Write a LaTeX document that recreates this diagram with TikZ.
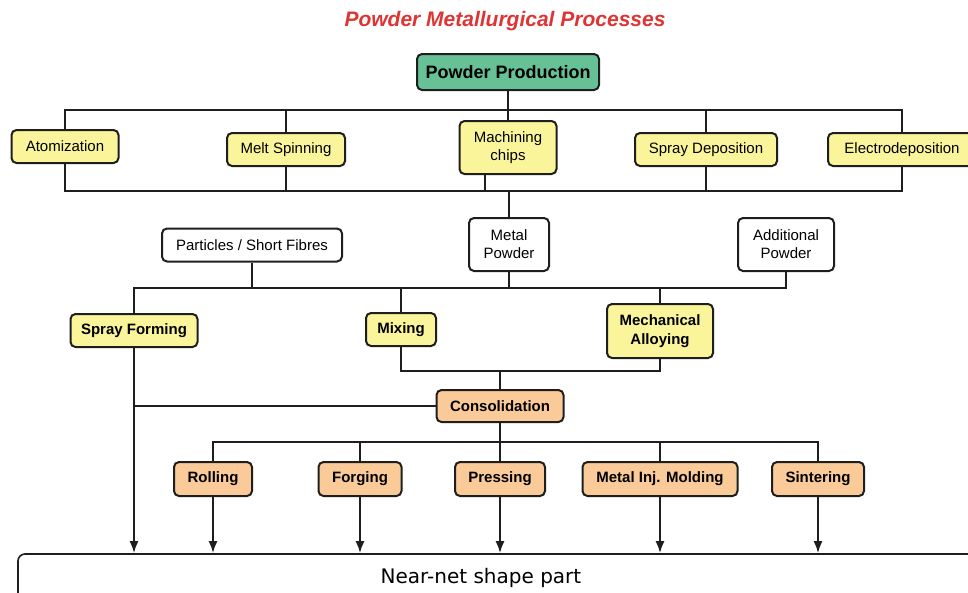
\documentclass[tikz,border=0pt]{standalone}
\usepackage{fontspec}
\setmainfont{Liberation Sans}
\newfontfamily\partfont{DejaVu Sans}
\usetikzlibrary{arrows.meta}

\definecolor{prodgreen}{RGB}{102,194,150}
\definecolor{srcyellow}{RGB}{250,245,155}
\definecolor{consorange}{RGB}{250,202,152}
\definecolor{linegray}{RGB}{30,30,30}
\definecolor{titlered}{RGB}{222,52,52}

\begin{document}
\begin{tikzpicture}[x=1pt, y=-1pt,
  box/.style={draw=linegray, line width=2pt, rounded corners=5pt, align=center,
    inner sep=0pt, font=\fontsize{15}{18}\selectfont},
  src/.style={box, fill=srcyellow},
  proc/.style={box, fill=srcyellow, font=\fontsize{15}{19}\selectfont\bfseries},
  shaping/.style={box, fill=consorange, font=\fontsize{15}{18}\selectfont\bfseries},
  feed/.style={box, fill=white},
  wire/.style={draw=linegray, line width=2pt},
  flow/.style={wire, -{Latex[length=12pt,width=9pt]}}]

  \clip (0,0) rectangle (968,592);

  % title
  \node[text=titlered, font=\fontsize{21}{24}\selectfont\bfseries\itshape] (title) at (505,21) {Powder Metallurgical Processes};

  % powder production routes
  \node[box, fill=prodgreen, font=\fontsize{18}{21}\selectfont\bfseries, minimum width=182pt, minimum height=36pt] (prod) at (508,72) {Powder Production};
  \node[src, minimum width=107pt, minimum height=33pt] (atom) at (65,146.5) {Atomization};
  \node[src, minimum width=118pt, minimum height=33pt] (melt) at (286,149.5) {Melt Spinning};
  \node[src, minimum width=97pt, minimum height=53pt] (chips) at (508,147.5) {Machining\\chips};
  \node[src, minimum width=142pt, minimum height=33pt] (sdep) at (706,149.5) {Spray Deposition};
  \node[src, minimum width=148pt, minimum height=33pt] (elec) at (902,149.5) {Electrodeposition};

  \coordinate (bus1) at (0,110);
  \coordinate (bus2) at (0,191);
  \draw[wire] (atom.north) |- (elec |- bus1) -- (elec.north);
  \draw[wire] (melt.north) -- (melt |- bus1);
  \draw[wire] (sdep.north) -- (sdep |- bus1);
  \draw[wire] (prod.south) -- (chips.north);
  \draw[wire] (atom.south) |- (elec |- bus2) -- (elec.south);
  \draw[wire] (melt.south) -- (melt |- bus2);
  \draw[wire] ([xshift=-23pt]chips.south) -- ([xshift=-23pt]chips.south |- bus2);
  \draw[wire] (sdep.south) -- (sdep |- bus2);

  % feed materials
  \node[feed, minimum width=180pt, minimum height=33pt] (fibres) at (252,245) {Particles / Short Fibres};
  \node[feed, minimum width=80pt, minimum height=53pt] (metal) at (509,244.5) {Metal\\Powder};
  \node[feed, minimum width=96pt, minimum height=53pt] (addl) at (786,244.5) {Additional\\Powder};
  \draw[wire] (metal.north) -- (metal |- bus2);

  % processing
  \node[proc, minimum width=127pt, minimum height=33pt] (sform) at (134,330.5) {Spray Forming};
  \node[proc, minimum width=70pt, minimum height=33pt] (mix) at (401,329.5) {Mixing};
  \node[proc, minimum width=106pt, minimum height=54pt] (mech) at (660,331) {Mechanical\\Alloying};
  \node[shaping, minimum width=127pt, minimum height=32pt] (cons) at (500,406) {Consolidation};

  \coordinate (bus3) at (0,288);
  \coordinate (bus4) at (0,371);
  \draw[wire] (sform.north) |- (addl |- bus3) -- (addl.south);
  \draw[wire] (fibres.south) -- (fibres |- bus3);
  \draw[wire] (metal.south) -- (metal |- bus3);
  \draw[wire] (mix.north) -- (mix |- bus3);
  \draw[wire] (mech.north) -- (mech |- bus3);
  \draw[wire] (mix.south) |- (mech |- bus4) -- (mech.south);
  \draw[wire] (cons.north) -- (cons |- bus4);
  \draw[wire] (cons.west) -- (cons.west -| sform);

  % shaping
  \node[shaping, minimum width=78pt, minimum height=34pt] (roll) at (213,479) {Rolling};
  \node[shaping, minimum width=83pt, minimum height=34pt] (forg) at (360,479) {Forging};
  \node[shaping, minimum width=90pt, minimum height=34pt] (press) at (500,479) {Pressing};
  \node[shaping, minimum width=155pt, minimum height=34pt] (mim) at (660,479) {Metal Inj. Molding};
  \node[shaping, minimum width=92pt, minimum height=34pt] (sint) at (818,479) {Sintering};

  \coordinate (bus5) at (0,442);
  \draw[wire] (roll.north) |- (sint |- bus5) -- (sint.north);
  \draw[wire] (cons.south) -- (press.north);
  \draw[wire] (forg.north) -- (forg |- bus5);
  \draw[wire] (mim.north) -- (mim |- bus5);

  % product
  \node[box, fill=white, line width=1.6pt, rounded corners=7pt, font=\partfont\fontsize{20}{24}\selectfont,
    minimum width=962pt, minimum height=48pt] (part) at (499,578) {\hspace*{-36pt}Near-net shape part};

  \draw[flow] (sform.south) -- (sform |- part.north);
  \foreach \n in {roll,forg,press,mim,sint}
    \draw[flow] (\n.south) -- (\n |- part.north);
\end{tikzpicture}
\end{document}
